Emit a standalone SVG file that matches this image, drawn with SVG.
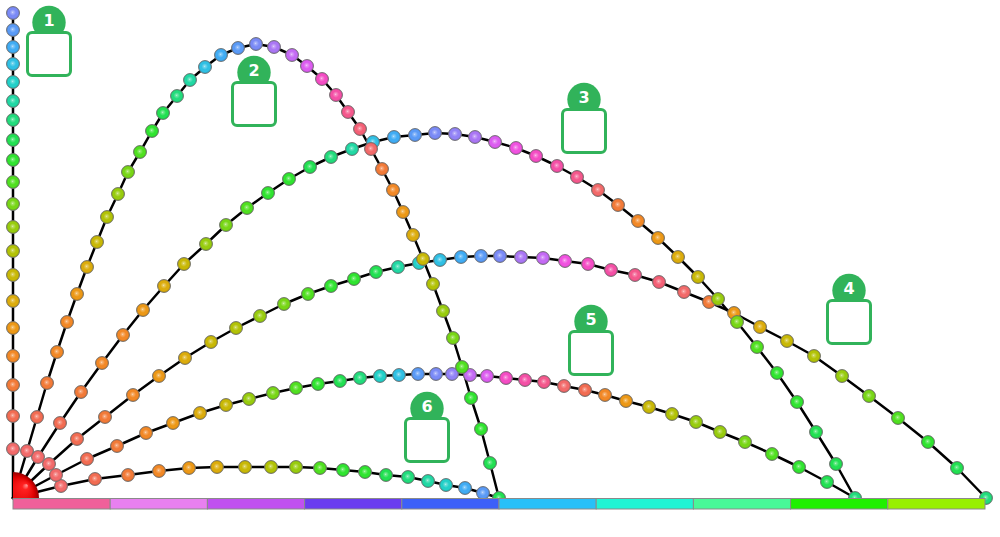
<svg xmlns="http://www.w3.org/2000/svg" xmlns:xlink="http://www.w3.org/1999/xlink" width="1000" height="537" viewBox="0 0 1000 537">
<style>
.ln{fill:none;stroke:#000;stroke-width:2.5;stroke-linejoin:round;stroke-linecap:round}
.bc{fill:#31b35a}
.br{fill:#fff;stroke:#31b35a;stroke-width:3}
.bt{fill:#fff;font-family:"DejaVu Sans","Liberation Sans",sans-serif;font-weight:bold;font-size:16px;text-anchor:middle}
.bar rect{stroke:#8a8a8a;stroke-width:1}
</style>
<defs>
<radialGradient id="shine" cx="0.5" cy="0.5" r="0.5" fx="0.47" fy="0.43">
<stop offset="0" stop-color="#fff" stop-opacity="0.95"/>
<stop offset="0.1" stop-color="#fff" stop-opacity="0.4"/>
<stop offset="0.5" stop-color="#fff" stop-opacity="0"/>
<stop offset="0.75" stop-color="#000" stop-opacity="0"/>
<stop offset="1" stop-color="#000" stop-opacity="0.18"/>
</radialGradient>
<radialGradient id="redg" gradientUnits="userSpaceOnUse" cx="13" cy="498" r="26" fx="27" fy="485">
<stop offset="0" stop-color="#ffa0a0"/>
<stop offset="0.12" stop-color="#ff2020"/>
<stop offset="0.6" stop-color="#dc0000"/>
<stop offset="1" stop-color="#900000"/>
</radialGradient>
<g id="b"><circle r="6.5" fill="currentColor" stroke="#7a7a7a" stroke-width="0.9"/><circle r="6.5" fill="url(#shine)"/></g>
</defs>
<rect width="1000" height="537" fill="#fff"/>
<g id="connectors">
<polyline class="ln" points="13,498 13,13"/>
<polyline class="ln" points="13,498 27,451 37,417 47,383 57,352 67,322 77,294 87,267 97,242 107,217 118,194 128,172 140,152 152,131 163,113 177,96 190,80 205,67 221,55 238,48 256,44 274,47 292,55 307,66 322,79 336,95 348,112 360,129 371,149 382,169 393,190 403,212 413,235 423,259 433,284 443,311 453,338 462,367 471,398 481,429 490,463 499,498"/>
<polyline class="ln" points="13,498 38,457 60,423 81,392 102,363 123,335 143,310 164,286 184,264 206,244 226,225 247,208 268,193 289,179 310,167 331,157 352,149 373,142 394,137 415,135 435,133 455,134 475,137 495,142 516,148 536,156 557,166 577,177 598,190 618,205 638,221 658,238 678,257 698,277 718,299 737,322 757,347 777,373 797,402 816,432 836,464 855,498"/>
<polyline class="ln" points="13,498 49,464 77,439 105,417 133,395 159,376 185,358 211,342 236,328 260,316 284,304 308,294 331,286 354,279 376,272 398,267 419,263 440,260 461,257 481,256 500,256 521,257 543,258 565,261 588,264 611,270 635,275 659,282 684,292 709,302 734,313 760,327 787,341 814,356 842,376 869,396 898,418 928,442 957,468 986,498"/>
<polyline class="ln" points="13,498 56,475 87,459 117,446 146,433 173,423 200,413 226,405 249,399 273,393 296,388 318,384 340,381 360,378 380,376 399,375 418,374 436,374 452,374 470,375 487,376 506,378 525,380 544,382 564,386 585,390 605,395 626,401 649,407 672,414 696,422 720,432 745,442 772,454 799,467 827,482 855,498"/>
<polyline class="ln" points="13,498 61,486 95,479 128,475 159,471 189,468 217,467 245,467 271,467 296,467 320,468 343,470 365,472 386,475 408,477 428,481 446,485 465,488 483,493 499,498"/>
</g>
<g id="balls6">
<use href="#b" x="61" y="486" color="#f26a6a"/>
<use href="#b" x="95" y="479" color="#f26c52"/>
<use href="#b" x="128" y="475" color="#f27a38"/>
<use href="#b" x="159" y="471" color="#f28826"/>
<use href="#b" x="189" y="468" color="#ec9816"/>
<use href="#b" x="217" y="467" color="#dcac0c"/>
<use href="#b" x="245" y="467" color="#c8b806"/>
<use href="#b" x="271" y="467" color="#b2c206"/>
<use href="#b" x="296" y="467" color="#98cc0e"/>
<use href="#b" x="320" y="468" color="#50e020"/>
<use href="#b" x="343" y="470" color="#30e430"/>
<use href="#b" x="365" y="472" color="#30e430"/>
<use href="#b" x="386" y="475" color="#22e052"/>
<use href="#b" x="408" y="477" color="#22dc7c"/>
<use href="#b" x="428" y="481" color="#22d8a4"/>
<use href="#b" x="446" y="485" color="#22d0c8"/>
<use href="#b" x="465" y="488" color="#40acf4"/>
<use href="#b" x="483" y="493" color="#5a9af6"/>
</g>
<g id="balls5">
<use href="#b" x="56" y="475" color="#f26a6a"/>
<use href="#b" x="87" y="459" color="#f26c52"/>
<use href="#b" x="117" y="446" color="#f27a38"/>
<use href="#b" x="146" y="433" color="#f28826"/>
<use href="#b" x="173" y="423" color="#ec9816"/>
<use href="#b" x="200" y="413" color="#dcac0c"/>
<use href="#b" x="226" y="405" color="#c8b806"/>
<use href="#b" x="249" y="399" color="#98cc0e"/>
<use href="#b" x="273" y="393" color="#78d616"/>
<use href="#b" x="296" y="388" color="#50e020"/>
<use href="#b" x="318" y="384" color="#30e430"/>
<use href="#b" x="340" y="381" color="#22e052"/>
<use href="#b" x="360" y="378" color="#22dc7c"/>
<use href="#b" x="380" y="376" color="#22d0c8"/>
<use href="#b" x="399" y="375" color="#30c0e4"/>
<use href="#b" x="418" y="374" color="#5a9af6"/>
<use href="#b" x="436" y="374" color="#7a8af6"/>
<use href="#b" x="452" y="374" color="#9282f6"/>
<use href="#b" x="470" y="375" color="#c46af4"/>
<use href="#b" x="487" y="376" color="#dc5cf0"/>
<use href="#b" x="506" y="378" color="#f44cc4"/>
<use href="#b" x="525" y="380" color="#f450a6"/>
<use href="#b" x="544" y="382" color="#f4588c"/>
<use href="#b" x="564" y="386" color="#f26a6a"/>
<use href="#b" x="585" y="390" color="#f26c52"/>
<use href="#b" x="605" y="395" color="#f28826"/>
<use href="#b" x="626" y="401" color="#ec9816"/>
<use href="#b" x="649" y="407" color="#c8b806"/>
<use href="#b" x="672" y="414" color="#b2c206"/>
<use href="#b" x="696" y="422" color="#98cc0e"/>
<use href="#b" x="720" y="432" color="#98cc0e"/>
<use href="#b" x="745" y="442" color="#78d616"/>
<use href="#b" x="772" y="454" color="#50e020"/>
<use href="#b" x="799" y="467" color="#30e430"/>
<use href="#b" x="827" y="482" color="#22e052"/>
</g>
<g id="balls4">
<use href="#b" x="49" y="464" color="#f26a6a"/>
<use href="#b" x="77" y="439" color="#f26c52"/>
<use href="#b" x="105" y="417" color="#f27a38"/>
<use href="#b" x="133" y="395" color="#f28826"/>
<use href="#b" x="159" y="376" color="#ec9816"/>
<use href="#b" x="185" y="358" color="#dcac0c"/>
<use href="#b" x="211" y="342" color="#c8b806"/>
<use href="#b" x="236" y="328" color="#b2c206"/>
<use href="#b" x="260" y="316" color="#98cc0e"/>
<use href="#b" x="284" y="304" color="#78d616"/>
<use href="#b" x="308" y="294" color="#50e020"/>
<use href="#b" x="331" y="286" color="#30e430"/>
<use href="#b" x="354" y="279" color="#30e430"/>
<use href="#b" x="376" y="272" color="#22e052"/>
<use href="#b" x="398" y="267" color="#22d8a4"/>
<use href="#b" x="419" y="263" color="#22d0c8"/>
<use href="#b" x="440" y="260" color="#30c0e4"/>
<use href="#b" x="461" y="257" color="#40acf4"/>
<use href="#b" x="481" y="256" color="#5a9af6"/>
<use href="#b" x="500" y="256" color="#7a8af6"/>
<use href="#b" x="521" y="257" color="#aa76f4"/>
<use href="#b" x="543" y="258" color="#c46af4"/>
<use href="#b" x="565" y="261" color="#f052e0"/>
<use href="#b" x="588" y="264" color="#f44cc4"/>
<use href="#b" x="611" y="270" color="#f450a6"/>
<use href="#b" x="635" y="275" color="#f4588c"/>
<use href="#b" x="659" y="282" color="#f46076"/>
<use href="#b" x="684" y="292" color="#f26a6a"/>
<use href="#b" x="709" y="302" color="#f27a38"/>
<use href="#b" x="734" y="313" color="#ec9816"/>
<use href="#b" x="760" y="327" color="#dcac0c"/>
<use href="#b" x="787" y="341" color="#c8b806"/>
<use href="#b" x="814" y="356" color="#b2c206"/>
<use href="#b" x="842" y="376" color="#98cc0e"/>
<use href="#b" x="869" y="396" color="#78d616"/>
<use href="#b" x="898" y="418" color="#50e020"/>
<use href="#b" x="928" y="442" color="#30e430"/>
<use href="#b" x="957" y="468" color="#22e052"/>
<use href="#b" x="986" y="498" color="#22dc7c"/>
</g>
<g id="balls3">
<use href="#b" x="38" y="457" color="#f26a6a"/>
<use href="#b" x="60" y="423" color="#f26c52"/>
<use href="#b" x="81" y="392" color="#f27a38"/>
<use href="#b" x="102" y="363" color="#f28826"/>
<use href="#b" x="123" y="335" color="#f28826"/>
<use href="#b" x="143" y="310" color="#ec9816"/>
<use href="#b" x="164" y="286" color="#dcac0c"/>
<use href="#b" x="184" y="264" color="#c8b806"/>
<use href="#b" x="206" y="244" color="#98cc0e"/>
<use href="#b" x="226" y="225" color="#78d616"/>
<use href="#b" x="247" y="208" color="#50e020"/>
<use href="#b" x="268" y="193" color="#30e430"/>
<use href="#b" x="289" y="179" color="#30e430"/>
<use href="#b" x="310" y="167" color="#22e052"/>
<use href="#b" x="331" y="157" color="#22dc7c"/>
<use href="#b" x="352" y="149" color="#22d8a4"/>
<use href="#b" x="373" y="142" color="#30c0e4"/>
<use href="#b" x="394" y="137" color="#40acf4"/>
<use href="#b" x="415" y="135" color="#5a9af6"/>
<use href="#b" x="435" y="133" color="#7a8af6"/>
<use href="#b" x="455" y="134" color="#9282f6"/>
<use href="#b" x="475" y="137" color="#aa76f4"/>
<use href="#b" x="495" y="142" color="#dc5cf0"/>
<use href="#b" x="516" y="148" color="#f052e0"/>
<use href="#b" x="536" y="156" color="#f44cc4"/>
<use href="#b" x="557" y="166" color="#f450a6"/>
<use href="#b" x="577" y="177" color="#f4588c"/>
<use href="#b" x="598" y="190" color="#f26a6a"/>
<use href="#b" x="618" y="205" color="#f27a38"/>
<use href="#b" x="638" y="221" color="#f28826"/>
<use href="#b" x="658" y="238" color="#ec9816"/>
<use href="#b" x="678" y="257" color="#dcac0c"/>
<use href="#b" x="698" y="277" color="#c8b806"/>
<use href="#b" x="718" y="299" color="#98cc0e"/>
<use href="#b" x="737" y="322" color="#78d616"/>
<use href="#b" x="757" y="347" color="#50e020"/>
<use href="#b" x="777" y="373" color="#30e430"/>
<use href="#b" x="797" y="402" color="#30e430"/>
<use href="#b" x="816" y="432" color="#22e052"/>
<use href="#b" x="836" y="464" color="#22e052"/>
<use href="#b" x="855" y="498" color="#22dc7c"/>
</g>
<g id="balls2">
<use href="#b" x="27" y="451" color="#f26a6a"/>
<use href="#b" x="37" y="417" color="#f26c52"/>
<use href="#b" x="47" y="383" color="#f27a38"/>
<use href="#b" x="57" y="352" color="#f28826"/>
<use href="#b" x="67" y="322" color="#f28826"/>
<use href="#b" x="77" y="294" color="#ec9816"/>
<use href="#b" x="87" y="267" color="#dcac0c"/>
<use href="#b" x="97" y="242" color="#c8b806"/>
<use href="#b" x="107" y="217" color="#b2c206"/>
<use href="#b" x="118" y="194" color="#98cc0e"/>
<use href="#b" x="128" y="172" color="#78d616"/>
<use href="#b" x="140" y="152" color="#50e020"/>
<use href="#b" x="152" y="131" color="#30e430"/>
<use href="#b" x="163" y="113" color="#22e052"/>
<use href="#b" x="177" y="96" color="#22dc7c"/>
<use href="#b" x="190" y="80" color="#22d8a4"/>
<use href="#b" x="205" y="67" color="#30c0e4"/>
<use href="#b" x="221" y="55" color="#40acf4"/>
<use href="#b" x="238" y="48" color="#5a9af6"/>
<use href="#b" x="256" y="44" color="#7a8af6"/>
<use href="#b" x="274" y="47" color="#aa76f4"/>
<use href="#b" x="292" y="55" color="#c46af4"/>
<use href="#b" x="307" y="66" color="#dc5cf0"/>
<use href="#b" x="322" y="79" color="#f44cc4"/>
<use href="#b" x="336" y="95" color="#f450a6"/>
<use href="#b" x="348" y="112" color="#f4588c"/>
<use href="#b" x="360" y="129" color="#f46076"/>
<use href="#b" x="371" y="149" color="#f26a6a"/>
<use href="#b" x="382" y="169" color="#f27a38"/>
<use href="#b" x="393" y="190" color="#f28826"/>
<use href="#b" x="403" y="212" color="#ec9816"/>
<use href="#b" x="413" y="235" color="#dcac0c"/>
<use href="#b" x="423" y="259" color="#c8b806"/>
<use href="#b" x="433" y="284" color="#b2c206"/>
<use href="#b" x="443" y="311" color="#98cc0e"/>
<use href="#b" x="453" y="338" color="#78d616"/>
<use href="#b" x="462" y="367" color="#50e020"/>
<use href="#b" x="471" y="398" color="#30e430"/>
<use href="#b" x="481" y="429" color="#30e430"/>
<use href="#b" x="490" y="463" color="#22e052"/>
<use href="#b" x="499" y="498" color="#22e052"/>
</g>
<g id="balls1">
<use href="#b" x="13" y="449" color="#f26a6a"/>
<use href="#b" x="13" y="416" color="#f26c52"/>
<use href="#b" x="13" y="385" color="#f27a38"/>
<use href="#b" x="13" y="356" color="#f28826"/>
<use href="#b" x="13" y="328" color="#ec9816"/>
<use href="#b" x="13" y="301" color="#dcac0c"/>
<use href="#b" x="13" y="275" color="#c8b806"/>
<use href="#b" x="13" y="251" color="#b2c206"/>
<use href="#b" x="13" y="227" color="#98cc0e"/>
<use href="#b" x="13" y="204" color="#78d616"/>
<use href="#b" x="13" y="182" color="#50e020"/>
<use href="#b" x="13" y="160" color="#30e430"/>
<use href="#b" x="13" y="140" color="#22e052"/>
<use href="#b" x="13" y="120" color="#22dc7c"/>
<use href="#b" x="13" y="101" color="#22d8a4"/>
<use href="#b" x="13" y="82" color="#22d0c8"/>
<use href="#b" x="13" y="64" color="#30c0e4"/>
<use href="#b" x="13" y="47" color="#40acf4"/>
<use href="#b" x="13" y="30" color="#5a9af6"/>
<use href="#b" x="13" y="13" color="#7a8af6"/>
</g>
<path id="origin" d="M13,498 V472 A26,26 0 0 1 39,498 Z" fill="url(#redg)"/>
<g id="bar" class="bar">
<rect x="13" y="498.5" width="97.2" height="10.5" fill="#f0609a"/>
<rect x="110.2" y="498.5" width="97.2" height="10.5" fill="#e880f0"/>
<rect x="207.4" y="498.5" width="97.2" height="10.5" fill="#c050f0"/>
<rect x="304.6" y="498.5" width="97.2" height="10.5" fill="#6a3cf0"/>
<rect x="401.8" y="498.5" width="97.2" height="10.5" fill="#3c60f8"/>
<rect x="499" y="498.5" width="97.2" height="10.5" fill="#28c0f8"/>
<rect x="596.2" y="498.5" width="97.2" height="10.5" fill="#20f4d4"/>
<rect x="693.4" y="498.5" width="97.2" height="10.5" fill="#48f898"/>
<rect x="790.6" y="498.5" width="97.2" height="10.5" fill="#20f000"/>
<rect x="887.8" y="498.5" width="97.2" height="10.5" fill="#98f000"/>
</g>
<g id="badge1" transform="translate(26,31)"><circle class="bc" cx="23" cy="-8.5" r="16.7"/><rect class="br" x="1.5" y="1.5" width="43" height="43" rx="4.5"/><text class="bt" x="23" y="-5">1</text></g>
<g id="badge2" transform="translate(231,81)"><circle class="bc" cx="23" cy="-8.5" r="16.7"/><rect class="br" x="1.5" y="1.5" width="43" height="43" rx="4.5"/><text class="bt" x="23" y="-5">2</text></g>
<g id="badge3" transform="translate(561,108)"><circle class="bc" cx="23" cy="-8.5" r="16.7"/><rect class="br" x="1.5" y="1.5" width="43" height="43" rx="4.5"/><text class="bt" x="23" y="-5">3</text></g>
<g id="badge4" transform="translate(826,299)"><circle class="bc" cx="23" cy="-8.5" r="16.7"/><rect class="br" x="1.5" y="1.5" width="43" height="43" rx="4.5"/><text class="bt" x="23" y="-5">4</text></g>
<g id="badge5" transform="translate(568,330)"><circle class="bc" cx="23" cy="-8.5" r="16.7"/><rect class="br" x="1.5" y="1.5" width="43" height="43" rx="4.5"/><text class="bt" x="23" y="-5">5</text></g>
<g id="badge6" transform="translate(404,417)"><circle class="bc" cx="23" cy="-8.5" r="16.7"/><rect class="br" x="1.5" y="1.5" width="43" height="43" rx="4.5"/><text class="bt" x="23" y="-5">6</text></g>
</svg>
